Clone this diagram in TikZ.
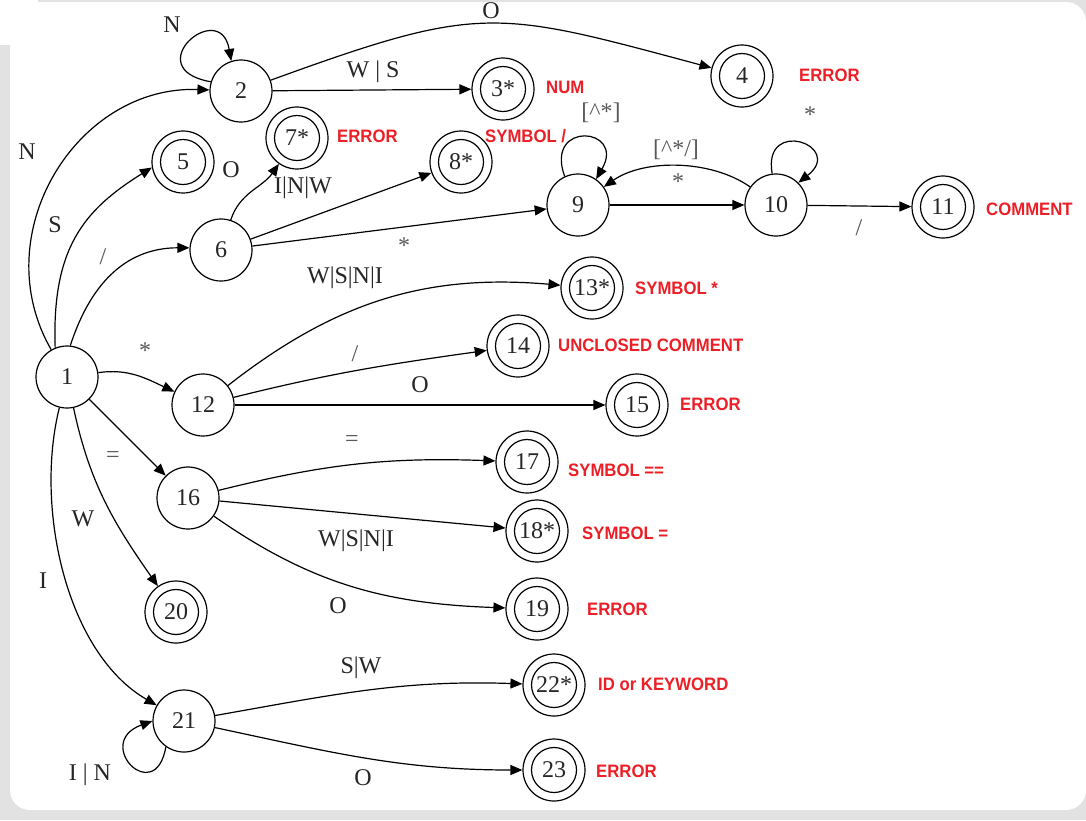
\documentclass[tikz,border=0pt]{standalone}
\usepackage{fontspec}
\setmainfont{Liberation Serif}
\newfontfamily\tagfont{Liberation Sans}[FakeStretch=0.93]
\usetikzlibrary{arrows.meta}
\definecolor{tagred}{RGB}{236,30,38}
\definecolor{framegrey}{RGB}{226,226,226}
\begin{document}
\begin{tikzpicture}[x=1pt,y=1pt,
  st/.style={circle,draw,line width=1.2pt,minimum size=62pt,inner sep=0pt,
    text=black!85,font=\fontsize{24}{28}\selectfont},
  acc/.style={st,path picture={\draw[line width=1.2pt]
    (path picture bounding box.center) circle[radius=22.5pt];}},
  tr/.style={line width=1.2pt,-{Triangle[length=12pt,width=10pt]}},
  lbl/.style={inner sep=0pt,text=black!85,font=\fontsize{24}{28}\selectfont},
  sym/.style={lbl,text=black!65},
  tag/.style={anchor=west,inner sep=0pt,text=tagred,
    font=\tagfont\bfseries\fontsize{18}{20}\selectfont}]

% frame
\useasboundingbox (0,0) rectangle (1086,-820);
\fill[framegrey] (0,0) rectangle (1086,-820);
\fill[white,rounded corners=20pt] (10,-2) rectangle (1086,-810);
\fill[white] (0,0) rectangle (38,-45);

% states
\node[st]  (n1)  at (67,-377)  {1};
\node[st]  (n2)  at (241,-91)  {2};
\node[acc] (n3)  at (503,-89)  {3*};
\node[acc] (n4)  at (742,-76)  {4};
\node[acc] (n5)  at (183,-162) {5};
\node[st]  (n6)  at (221,-250) {6};
\node[acc] (n7)  at (297,-138) {7*};
\node[acc] (n8)  at (461,-162) {8*};
\node[st]  (n9)  at (578,-205) {9};
\node[st]  (n10) at (776,-205) {10};
\node[acc] (n11) at (943,-207) {11};
\node[st]  (n12) at (203,-405) {12};
\node[acc] (n13) at (592,-288) {13*};
\node[acc] (n14) at (518,-346) {14};
\node[acc] (n15) at (637,-405) {15};
\node[st]  (n16) at (188,-498) {16};
\node[acc] (n17) at (527,-462) {17};
\node[acc] (n18) at (537,-531) {18*};
\node[acc] (n19) at (537,-609) {19};
\node[acc] (n20) at (176,-612) {20};
\node[st]  (n21) at (184,-721) {21};
\node[acc] (n22) at (554,-685) {22*};
\node[acc] (n23) at (554,-770) {23};

% transitions out of 1
\draw[tr] (n1) to[out=120,in=178,looseness=1.12] (n2);
\draw[tr] (n1.112) .. controls +(92:100pt) and +(212:80pt) .. (n5.190);
\draw[tr] (n1.84) .. controls +(72:70pt) and +(180:60pt) .. (n6.176);
\draw[tr] (n1) to[out=8,in=155] (n12);
\draw[tr] (n1) -- (n16);
\draw[tr] (n1) to[out=-78,in=125] (n20);
\draw[tr] (n1) to[out=-104,in=150,looseness=0.85] (n21);

% number branch
\draw[tr] (n2.163) .. controls +(170:75pt) and +(100:65pt) .. (n2.108);
\draw[tr] (n2) -- (n3);
\draw[tr] (n2) to[out=20,in=165,looseness=1.3] (n4);

% slash / comment branch
\draw[tr] (n6) to[out=72,in=235] (n7);
\draw[tr] (n6) -- (n8);
\draw[tr] (n6) -- (n9);
\draw[tr] (n9.115) .. controls +(110:60pt) and +(60:60pt) .. (n9.55);
\draw[tr] (n9) -- (n10);
\draw[tr] (n10) to[out=145,in=35,looseness=0.85] (n9);
\draw[tr] (n10.97) .. controls +(100:58pt) and +(38:60pt) .. (n10.45);
\draw[tr] (n10) -- (n11);

% star branch
\draw[tr] (n12) to[out=38,in=175] (n13);
\draw[tr] (n12) to[out=14,in=188] (n14);
\draw[tr] (n12) -- (n15);

% equals branch
\draw[tr] (n16) to[out=14,in=178] (n17);
\draw[tr] (n16) -- (n18);
\draw[tr] (n16) to[out=-35,in=178] (n19);

% identifier branch
\draw[tr] (n21) to[out=10,in=178] (n22);
\draw[tr] (n21) to[out=-12,in=180] (n23);
\draw[tr] (n21.235) .. controls +(260:62pt) and +(200:64pt) .. (n21.180);

% edge labels
\node[lbl] (l2loop) at (172,-25)  {N};
\node[lbl] (l24)    at (491,-11)  {O};
\node[lbl] (l23)    at (373,-72)  {W | S};
\node[lbl] (l12)    at (27,-152)  {N};
\node[lbl] (l15)    at (55,-225)  {S};
\node[sym] (l16)    at (103,-257) {/};
\node[lbl] (l67)    at (231,-170) {O};
\node[lbl] (l68)    at (303,-188) {I|N|W};
\node[sym] (l69)    at (404,-246) {*};
\node[sym] (l9loop) at (601,-113) {[\textasciicircum*]};
\node[sym] (l109)   at (676,-150) {[\textasciicircum*/]};
\node[sym] (l910)   at (678,-182) {*};
\node[sym] (l10loop) at (810,-115) {*};
\node[sym] (l1011)  at (859,-228) {/};
\node[lbl] (l1213)  at (345,-278) {W|S|N|I};
\node[sym] (l1214)  at (355,-354) {/};
\node[lbl] (l1215)  at (420,-385) {O};
\node[sym] (l112)   at (145,-351) {*};
\node[sym] (l116)   at (113,-457) {=};
\node[lbl] (l120)   at (83,-519)  {W};
\node[lbl] (l121)   at (43,-581)  {I};
\node[sym] (l1617)  at (352,-441) {=};
\node[lbl] (l1618)  at (356,-541) {W|S|N|I};
\node[lbl] (l1619)  at (338,-606) {O};
\node[lbl] (l2122)  at (361,-668) {S|W};
\node[lbl] (l2123)  at (363,-778) {O};
\node[lbl] (l21loop) at (90,-775) {I | N};

% token tags
\node[tag] (t3)  at (546,-87)  {NUM};
\node[tag] (t4)  at (799,-75)  {ERROR};
\node[tag] (t7)  at (337,-136) {ERROR};
\node[tag] (t8)  at (485,-136) {SYMBOL /};
\node[tag] (t11) at (986,-209) {COMMENT};
\node[tag] (t13) at (635,-288) {SYMBOL *};
\node[tag] (t14) at (558,-345) {UNCLOSED COMMENT};
\node[tag] (t15) at (680,-404) {ERROR};
\node[tag] (t17) at (568,-470) {SYMBOL ==};
\node[tag] (t18) at (582,-533) {SYMBOL =};
\node[tag] (t19) at (587,-609) {ERROR};
\node[tag] (t22) at (598,-684) {ID or KEYWORD};
\node[tag] (t23) at (596,-771) {ERROR};
\end{tikzpicture}
\end{document}
